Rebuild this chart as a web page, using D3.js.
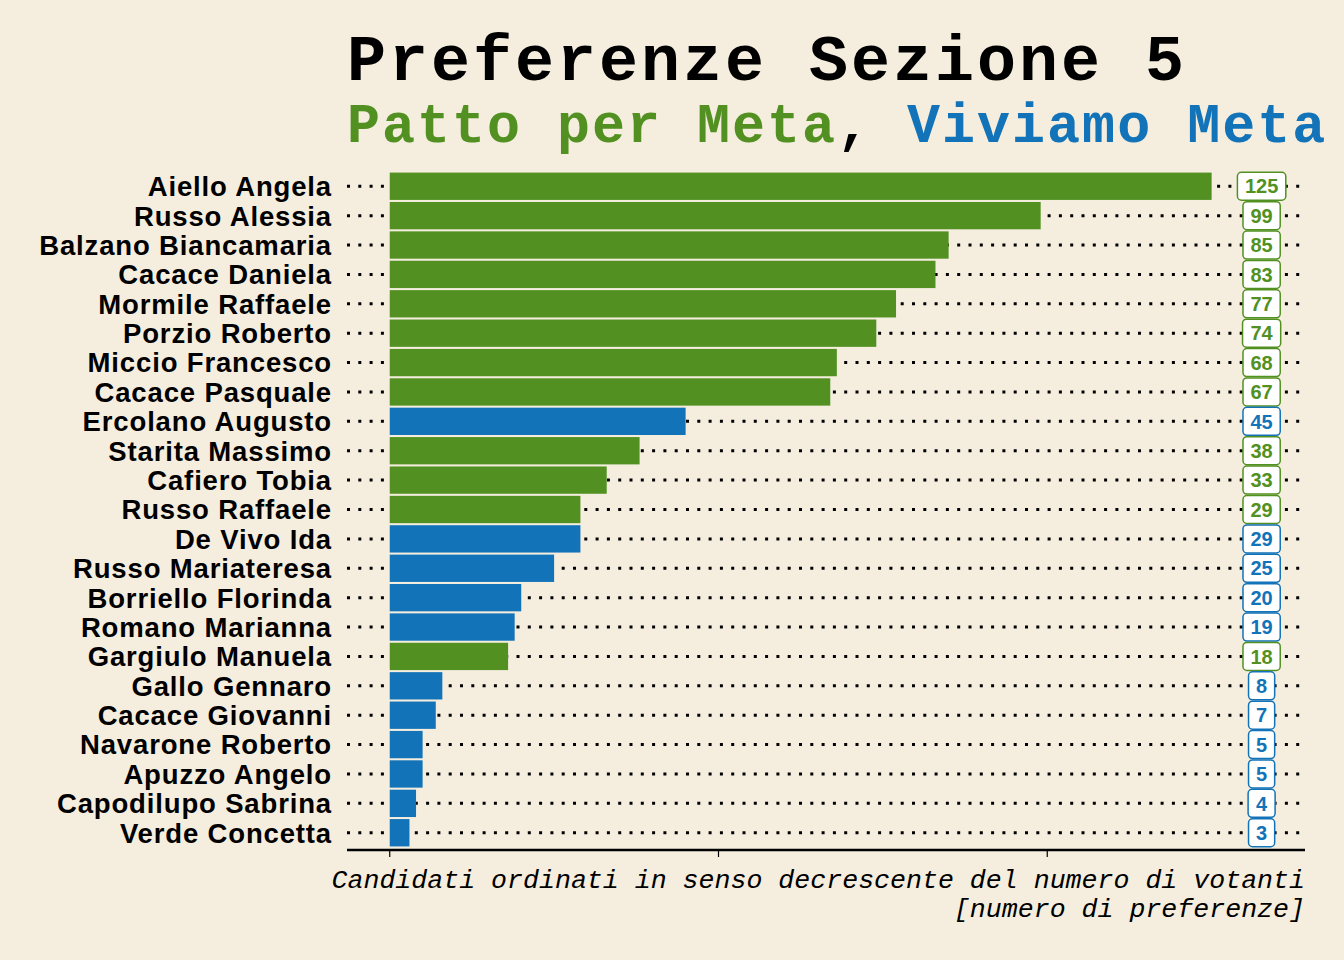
<!DOCTYPE html>
<html>
<head>
<meta charset="utf-8">
<script src="https://cdn.jsdelivr.net/npm/d3@7"></script>
<style>
  body { margin: 0; background: #f5eedf; }
  svg { display: block; }
</style>
</head>
<body>
<svg id="chart" width="1344" height="960"></svg>
<script>
var W = 1344;
var H = 960;
var COLOR_PATTO = "#529121";
var COLOR_VIVIAMO = "#1273b8";

// candidates, sorted as in the picture
var candidates = [
	"Aiello Angela", "Russo Alessia", "Balzano Biancamaria", "Cacace Daniela",
	"Mormile Raffaele", "Porzio Roberto", "Miccio Francesco", "Cacace Pasquale",
	"Ercolano Augusto", "Starita Massimo", "Cafiero Tobia", "Russo Raffaele",
	"De Vivo Ida", "Russo Mariateresa", "Borriello Florinda", "Romano Marianna",
	"Gargiulo Manuela", "Gallo Gennaro", "Cacace Giovanni", "Navarone Roberto",
	"Apuzzo Angelo", "Capodilupo Sabrina", "Verde Concetta"
];
var votes = [125, 99, 85, 83, 77, 74, 68, 67, 45, 38, 33, 29, 29, 25, 20, 19, 18, 8, 7, 5, 5, 4, 3];
// P = Patto per Meta, V = Viviamo Meta
var lists = ["P","P","P","P","P","P","P","P","V","P","P","P","V","V","V","V","P","V","V","V","V","V","V"];
var xTicks = [0, 50, 100];

var svg = d3.select("#chart");
svg.append("rect").attr("width", W).attr("height", H).style("fill", "#f5eedf");

var x = d3.scaleLinear().domain([-6.5, 139.2]).range([347, 1305]);
var y = d3.scaleBand().domain(candidates).range([172, 847]).paddingInner(0.07).paddingOuter(0.02);
var labelPos = 132.6;

var rows = candidates.map(function(name, i) {
	return { name: name, value: votes[i], list: lists[i] };
});
function colorOf(d) { return d.list === "P" ? COLOR_PATTO : COLOR_VIVIAMO; }
function midY(d) { return y(d.name) + y.bandwidth() / 2; }

// dotted guide lines
svg.selectAll("line.guide")
	.data(rows)
	.enter().append("line")
	.attr("class", "guide")
	.attr("x1", x.range()[0] + 1.5)
	.attr("x2", x.range()[1])
	.attr("y1", midY)
	.attr("y2", midY)
	.style("stroke", "#000")
	.style("stroke-width", 3)
	.style("stroke-linecap", "square")
	.style("stroke-dasharray", "0,11.3");

// bars
svg.selectAll("rect.bar")
	.data(rows)
	.enter().append("rect")
	.attr("class", "bar")
	.attr("x", x(0))
	.attr("y", function(d) { return y(d.name); })
	.attr("width", function(d) { return x(d.value) - x(0); })
	.attr("height", y.bandwidth())
	.style("fill", colorOf);

// candidate names
svg.selectAll("text.name")
	.data(rows)
	.enter().append("text")
	.attr("class", "name")
	.attr("x", 332)
	.attr("y", midY)
	.attr("dy", "0.36em")
	.attr("text-anchor", "end")
	.style("font-family", "'Liberation Sans', Arial, sans-serif")
	.style("font-weight", "bold")
	.style("font-size", "27.5px")
	.style("letter-spacing", "0.85px")
	.text(function(d) { return d.name; });

// value labels
var labels = svg.selectAll("g.vlabel")
	.data(rows)
	.enter().append("g")
	.attr("class", "vlabel")
	.attr("transform", function(d) { return "translate(" + x(labelPos) + "," + midY(d) + ")"; });

labels.append("text")
	.attr("text-anchor", "middle")
	.attr("dy", "0.36em")
	.style("font-family", "'Liberation Sans', Arial, sans-serif")
	.style("font-weight", "bold")
	.style("font-size", "20px")
	.style("fill", colorOf)
	.text(function(d) { return d.value; });

labels.insert("rect", "text")
	.attr("rx", 4)
	.attr("ry", 4)
	.style("fill", "#fff")
	.style("stroke", colorOf)
	.style("stroke-width", 1.5)
	.each(function() {
		var t = d3.select(this.parentNode).select("text").node().getBBox();
		d3.select(this)
			.attr("x", -t.width / 2 - 7.5)
			.attr("width", t.width + 15)
			.attr("y", -14)
			.attr("height", 28);
	});

// x axis: line + ticks, no labels
var axis = svg.append("g").attr("transform", "translate(0,850)");
axis.append("line")
	.attr("x1", x.range()[0]).attr("x2", x.range()[1])
	.style("stroke", "#000").style("stroke-width", 2.5);
axis.selectAll("line.tick")
	.data(xTicks)
	.enter().append("line")
	.attr("class", "tick")
	.attr("x1", x).attr("x2", x)
	.attr("y1", 0).attr("y2", 7)
	.style("stroke", "#000").style("stroke-width", 1.2);

// axis caption
var cap = svg.append("text")
	.attr("text-anchor", "end")
	.style("font-family", "'Liberation Mono', 'Courier New', monospace")
	.style("font-style", "italic")
	.style("font-size", "26.6px");
cap.append("tspan").attr("x", 1305).attr("y", 888).text("Candidati ordinati in senso decrescente del numero di votanti");
cap.append("tspan").attr("x", 1305).attr("y", 917).text("[numero di preferenze]");

// titles
svg.append("text")
	.attr("x", 347).attr("y", 80)
	.style("font-family", "'Liberation Mono', 'Courier New', monospace")
	.style("font-weight", "bold")
	.style("font-size", "65px")
	.style("letter-spacing", "3px")
	.text("Preferenze Sezione 5");

var sub = svg.append("text")
	.attr("x", 347).attr("y", 142)
	.style("font-family", "'Liberation Mono', 'Courier New', monospace")
	.style("font-weight", "bold")
	.style("font-size", "55px")
	.style("letter-spacing", "2px");
sub.append("tspan").style("fill", COLOR_PATTO).text("Patto per Meta");
sub.append("tspan").style("fill", "#000").text(", ");
sub.append("tspan").style("fill", COLOR_VIVIAMO).text("Viviamo Meta");
</script>
</body>
</html>
